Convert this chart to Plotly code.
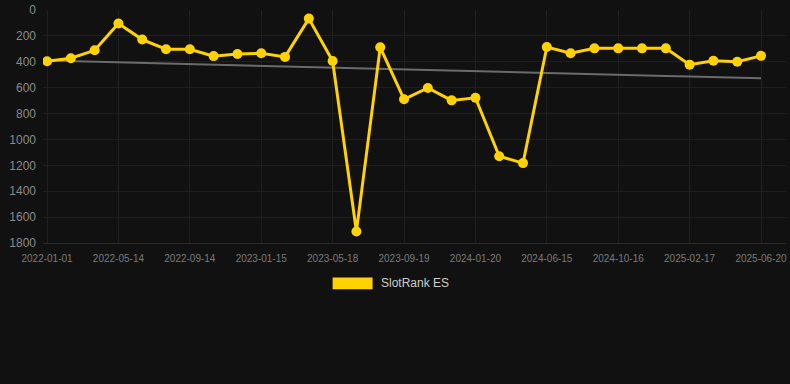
import plotly.graph_objects as go
import numpy as np
import pandas as pd

dates = ["2022-01-01", "2022-02-14", "2022-03-30", "2022-05-14", "2022-06-24", "2022-08-04",
         "2022-09-14", "2022-10-25", "2022-12-05", "2023-01-15", "2023-02-25", "2023-04-07",
         "2023-05-18", "2023-06-28", "2023-08-09", "2023-09-19", "2023-10-30", "2023-12-10",
         "2024-01-20", "2024-03-08", "2024-04-27", "2024-06-15", "2024-07-26", "2024-09-05",
         "2024-10-16", "2024-11-26", "2025-01-07", "2025-02-17", "2025-03-30", "2025-05-10",
         "2025-06-20"]
rank_es = [395, 372, 311, 104, 228, 303, 303, 356, 339, 334, 362, 66, 394, 1711, 288,
           690, 602, 698, 678, 1130, 1183, 286, 334, 296, 296, 296, 296, 422, 392, 399, 354]
tick_labels = dates[::3]
y_ticks = [0, 200, 400, 600, 800, 1000, 1200, 1400, 1600, 1800]
series_name = "SlotRank ES"

# linear trend in time
t = pd.to_datetime(dates).map(pd.Timestamp.toordinal).to_numpy(dtype=float)
coef = np.polyfit(t, np.array(rank_es, dtype=float), 1)
trend = np.polyval(coef, t)

gold = "#FFD200"
fig = go.Figure()
fig.add_trace(go.Scatter(x=dates, y=trend, mode="lines",
                         line=dict(color="#6b6b6b", width=2), showlegend=False,
                         hoverinfo="skip"))
fig.add_trace(go.Scatter(x=dates, y=rank_es, mode="lines+markers", name=series_name,
                         line=dict(color=gold, width=3),
                         marker=dict(color=gold, size=10), showlegend=False))

fig.update_layout(
    width=790, height=384,
    paper_bgcolor="#111111", plot_bgcolor="#111111",
    margin=dict(l=43, r=3, t=6, b=141),
    font=dict(family="Liberation Sans, Arial, sans-serif", color="#8a8a8a"),
    showlegend=False,
)
fig.update_xaxes(type="category", categoryorder="array", categoryarray=dates,
                 tickmode="array", tickvals=tick_labels, ticktext=tick_labels,
                 range=[-0.17, 31.05], showgrid=True, gridcolor="#1f1f1f", gridwidth=1,
                 zeroline=False, showline=True, linecolor="#2a2a2a",
                 tickfont=dict(size=10, color="#7a7a7a"), ticks="", ticklabelstandoff=6,
                 ticklabeloverflow="allow")
fig.update_yaxes(range=[1800.5, -0.5], tickmode="array", tickvals=y_ticks,
                 showgrid=True, gridcolor="#1f1f1f", gridwidth=1, zeroline=False,
                 tickfont=dict(size=12, color="#8a8a8a"), ticks="", ticklabelstandoff=6,
                 ticklabeloverflow="allow")

# legend
fig.add_shape(type="rect", xref="paper", yref="paper",
              x0=(333 - 43) / 744, x1=(373 - 43) / 744,
              y0=-(290 - 243) / 237, y1=-(278 - 243) / 237,
              fillcolor=gold, line=dict(width=0))
fig.add_annotation(xref="paper", yref="paper", x=(379 - 43) / 744, y=-(284 - 243) / 237,
                   text=series_name, showarrow=False, xanchor="left", yanchor="middle",
                   font=dict(size=12, color="#cccccc"))

fig.write_html("out.html", config={"displayModeBar": False})
with open("out.html", "r", encoding="utf-8") as f:
    html = f.read()
html = html.replace("<head>", "<head><style>html,body{margin:0;padding:0;background:#111111;overflow:hidden;}</style>", 1)
with open("out.html", "w", encoding="utf-8") as f:
    f.write(html)
